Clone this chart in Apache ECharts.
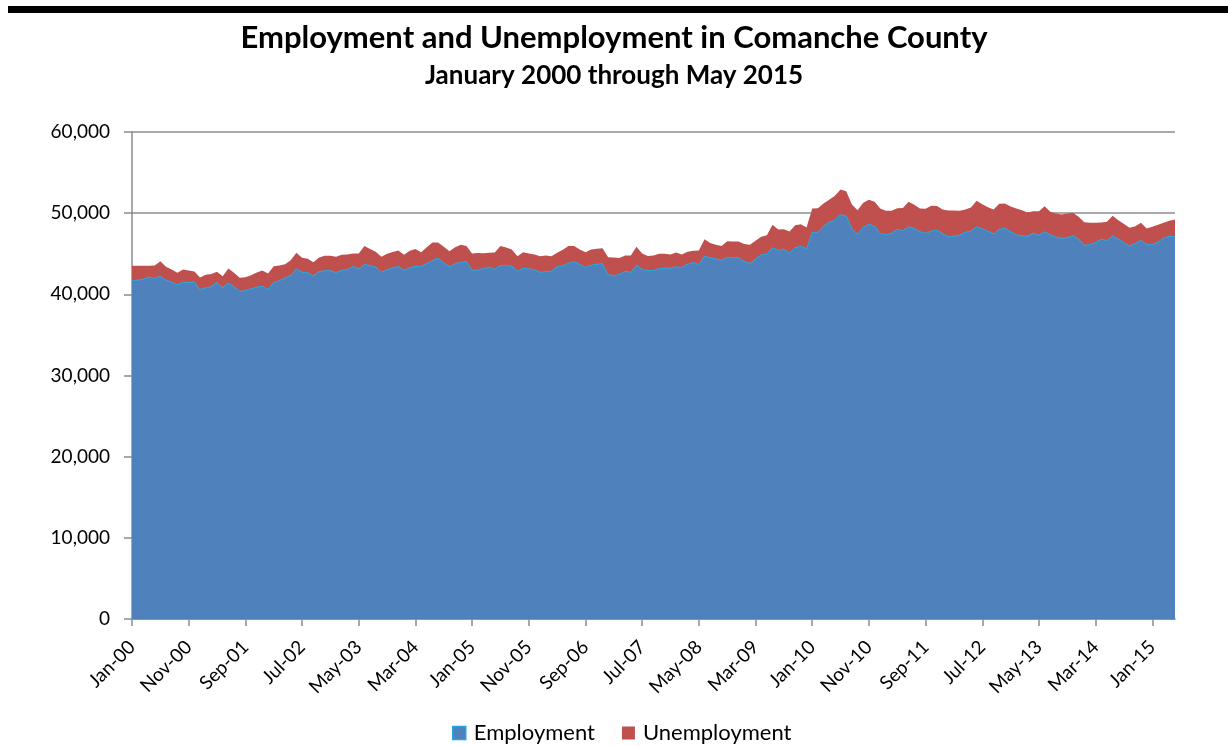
<!DOCTYPE html>
<html>
<head>
<meta charset="utf-8">
<title>Employment and Unemployment in Comanche County</title>
<script src="https://cdn.jsdelivr.net/npm/echarts@6/dist/echarts.min.js"></script>
<style>
  html, body { margin: 0; padding: 0; background: #fff; }
  #chart { width: 1228px; height: 746px; }
</style>
</head>
<body>
<div id="chart"></div>
<script>
// Monthly series, January 2000 through May 2015 (185 months)
const monthNames = ['Jan','Feb','Mar','Apr','May','Jun','Jul','Aug','Sep','Oct','Nov','Dec'];
const startYear = 2000;
const monthCount = 185;

const employment = [
  41660, 41750, 41870, 42120, 41990, 42240, 41750, 41500, 41170, 41500, 41500, 41500,
  40600, 40800, 40920, 41460, 40840, 41380, 40920, 40350, 40470, 40680, 40880, 41010,
  40600, 41460, 41660, 42030, 42280, 43140, 42730, 42650, 42280, 42810, 42900, 42900,
  42690, 42940, 43060, 43430, 43140, 43680, 43550, 43350, 42730, 43020, 43260, 43430,
  42980, 43260, 43470, 43430, 43800, 44170, 44460, 43880, 43390, 43760, 43960, 44000,
  42980, 42980, 43180, 43350, 43100, 43550, 43550, 43470, 42810, 43220, 43140, 43020,
  42730, 42770, 42850, 43390, 43510, 43840, 44050, 43680, 43310, 43590, 43720, 43760,
  42400, 42320, 42440, 42850, 42690, 43590, 43060, 42900, 42940, 43180, 43220, 43220,
  43390, 43310, 43720, 43920, 43680, 44700, 44500, 44370, 44210, 44540, 44540, 44500,
  44050, 43800, 44330, 44870, 44950, 45730, 45440, 45560, 45070, 45730, 45930, 45610,
  47620, 47660, 48400, 48890, 49140, 49790, 49630, 48070, 47410, 48230, 48640, 48400,
  47490, 47330, 47540, 48030, 47820, 48320, 48110, 47700, 47540, 47780, 47910, 47490,
  47080, 47170, 47290, 47660, 47780, 48320, 48070, 47780, 47450, 47990, 48150, 47700,
  47330, 47210, 47170, 47540, 47290, 47700, 47330, 47040, 46920, 46960, 47250, 46800,
  46060, 46100, 46390, 46800, 46630, 47210, 46800, 46350, 45980, 46260, 46670, 46100,
  46140, 46430, 46920, 47170, 47080
];

const unemployment = [
  1850, 1770, 1640, 1400, 1560, 1850, 1640, 1560, 1480, 1560, 1440, 1310,
  1480, 1600, 1600, 1310, 1400, 1810, 1730, 1680, 1640, 1680, 1810, 1930,
  1970, 2010, 1890, 1680, 1930, 1970, 1770, 1730, 1680, 1730, 1850, 1850,
  1930, 1930, 1850, 1600, 1890, 2260, 2050, 1890, 1890, 1970, 1970, 1970,
  1890, 2100, 2100, 1770, 2010, 2220, 1930, 1970, 1930, 2050, 2140, 1970,
  2050, 2100, 1890, 1770, 2050, 2420, 2220, 2050, 1890, 1970, 1890, 1890,
  1970, 2010, 1850, 1730, 1970, 2100, 1890, 1850, 1890, 1930, 1890, 1930,
  2180, 2220, 2050, 1930, 2100, 2260, 1970, 1810, 1850, 1810, 1770, 1680,
  1770, 1600, 1520, 1440, 1730, 2100, 1810, 1730, 1730, 2010, 1970, 2010,
  2140, 2300, 2260, 2220, 2340, 2830, 2550, 2460, 2670, 2790, 2710, 2630,
  2960, 2960, 2790, 2750, 3000, 3120, 3080, 3000, 2960, 3040, 3000, 3000,
  3080, 2960, 2750, 2590, 2830, 3080, 2920, 2880, 3000, 3120, 2960, 2960,
  3240, 3160, 3000, 2790, 2920, 3200, 3040, 2960, 3000, 3160, 3040, 3120,
  3240, 3160, 2920, 2710, 2960, 3160, 2830, 2920, 2920, 3000, 2790, 2750,
  2830, 2710, 2420, 2050, 2300, 2460, 2340, 2300, 2220, 2140, 2140, 2010,
  2180, 2140, 1890, 1890, 2140
];

// Category labels such as "Jan-00"
const months = [];
for (let i = 0; i < monthCount; i++) {
  const y = startYear + Math.floor(i / 12);
  months.push(monthNames[i % 12] + '-' + String(y % 100).padStart(2, '0'));
}

const FONT = 'Lato, "Open Sans", sans-serif';
const GRID_GRAY = '#8c8c8c';

const chart = echarts.init(document.getElementById('chart'), null, { renderer: 'canvas' });

chart.setOption({
  animation: false,
  backgroundColor: '#ffffff',
  graphic: [
    { type: 'rect', left: 8, top: 6, shape: { width: 1220, height: 7 }, style: { fill: '#000000' } }
  ],
  title: [
    {
      text: 'Employment and Unemployment in Comanche County',
      left: 'center', top: 17,
      textStyle: { fontFamily: FONT, fontWeight: 'bold', fontSize: 31, color: '#000' }
    },
    {
      text: 'January 2000 through May 2015',
      left: 'center', top: 58,
      textStyle: { fontFamily: FONT, fontWeight: 'bold', fontSize: 26, color: '#000' }
    }
  ],
  legend: {
    top: 717,
    left: 447,
    itemWidth: 13,
    itemHeight: 13,
    itemGap: 27,
    icon: 'rect',
    textStyle: { fontFamily: FONT, fontSize: 22, color: '#000', padding: [0, 0, 0, 3] },
    data: [
      { name: 'Employment', itemStyle: { color: '#4f81bd', borderColor: '#1ea7e1', borderWidth: 1.5 } },
      { name: 'Unemployment', itemStyle: { color: '#c0504d', borderWidth: 0 } }
    ]
  },
  grid: { left: 132, right: 53, top: 132, bottom: 127, containLabel: false },
  xAxis: {
    type: 'category',
    data: months,
    boundaryGap: false,
    axisLine: { show: true, lineStyle: { color: GRID_GRAY, width: 1.5 } },
    axisTick: { show: true, interval: 9, length: 7, lineStyle: { color: GRID_GRAY, width: 1.5 } },
    axisLabel: {
      interval: 9, rotate: 45, margin: 25,
      fontFamily: FONT, fontSize: 19, color: '#000'
    },
    splitLine: { show: false }
  },
  yAxis: {
    type: 'value',
    min: 0, max: 60000, interval: 10000,
    axisLine: { show: true, lineStyle: { color: GRID_GRAY, width: 1.5 } },
    axisTick: { show: true, length: 8, lineStyle: { color: GRID_GRAY, width: 1.5 } },
    axisLabel: {
      margin: 22, fontFamily: FONT, fontSize: 19, color: '#000',
      formatter: v => v.toLocaleString('en-US')
    },
    splitLine: { show: true, lineStyle: { color: GRID_GRAY, width: 1.5 } }
  },
  series: [
    {
      name: 'Employment',
      type: 'line',
      stack: 'labor',
      data: employment,
      symbol: 'none',
      lineStyle: { color: '#1ea7e1', width: 1 },
      itemStyle: { color: '#4f81bd' },
      areaStyle: { color: '#4f81bd', opacity: 1 },
      z: 3
    },
    {
      name: 'Unemployment',
      type: 'line',
      stack: 'labor',
      data: unemployment,
      symbol: 'none',
      lineStyle: { color: '#c0504d', width: 0 },
      itemStyle: { color: '#c0504d' },
      areaStyle: { color: '#c0504d', opacity: 1 },
      z: 2
    }
  ]
});
</script>
</body>
</html>
